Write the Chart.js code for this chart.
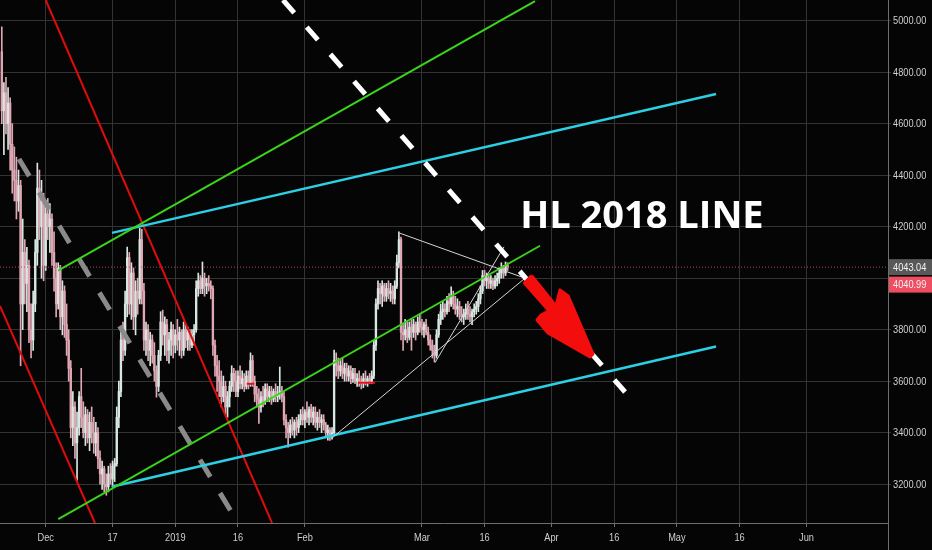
<!DOCTYPE html>
<html><head><meta charset="utf-8">
<script src="https://cdn.jsdelivr.net/npm/chart.js@4.4.0/dist/chart.umd.min.js"></script>
<style>html,body{margin:0;padding:0;background:#050505;overflow:hidden}#wrap{width:932px;height:550px}</style>
</head><body><div id="wrap"><canvas id="c" width="932" height="550"></canvas></div>
<script>
// ---------- axis data ----------
const tickDays   = [0, 16, 31, 46, 62, 90, 105, 121, 136, 151, 166, 182]; // days since 2018-12-01
const tickLabels = ['Dec','17','2019','16','Feb','Mar','16','Apr','16','May','16','Jun'];
const priceTicks = [3200, 3400, 3600, 3800, 4000, 4200, 4400, 4600, 4800, 5000];
const xRange = [-10.93, 201.5];
const yRange = [3049.3, 5080.4];

// ---------- 12h candles, starting 2018-11-20 12:00 ----------
const candleStart = -10.5, candleStep = 0.5;
const opens = [
4880,4650,4720,4600,4680,4520,4420,4380,4300,4360,
3900,4100,3980,4050,3800,3760,3900,4100,4350,4200,
4300,4050,4250,4200,4230,4100,4000,3900,4040,3850,
3950,3820,3760,3650,3420,3500,3360,3420,3540,3460,
3400,3470,3380,3440,3400,3360,3400,3300,3240,3260,
3200,3190,3240,3220,3270,3280,3460,3560,3760,3720,
3900,4080,3900,4020,3850,3950,3920,4150,3950,3760,
3800,3720,3760,3700,3640,3580,3700,3830,3780,3820,
3720,3760,3800,3740,3780,3760,3790,3720,3800,3760,
3790,3740,3780,3800,3960,3990,3960,4000,3970,3980,
3970,3960,3740,3660,3620,3600,3540,3580,3500,3540,
3580,3630,3600,3560,3620,3590,3610,3580,3620,3590,
3680,3600,3550,3530,3500,3540,3520,3570,3540,3560,
3530,3560,3540,3550,3560,3540,3450,3420,3400,3430,
3410,3440,3420,3450,3470,3450,3480,3460,3490,3460,
3480,3440,3460,3440,3450,3430,3400,3410,3390,3400,
3680,3660,3640,3660,3630,3650,3620,3640,3610,3630,
3600,3610,3600,3590,3610,3600,3610,3600,3620,3740,
3900,3960,3940,3970,3930,3960,3940,3950,3920,3970,
4060,4150,3790,3780,3800,3770,3810,3790,3820,3790,
3830,3810,3800,3820,3790,3760,3740,3720,3700,3780,
3840,3870,3880,3870,3910,3900,3930,3900,3880,3890,
3860,3850,3860,3880,3860,3850,3870,3880,3890,3920,
3950,4010,3990,4000,3980,3990,3970,3990,4000,4020,
4040,4020,4050];
const highs = [
4976,4760,4780,4740,4700,4600,4510,4470,4420,4380,
4230,4150,4120,4070,3900,3950,4150,4447,4420,4380,
4330,4300,4310,4290,4250,4180,4060,4060,4050,3990,
3970,3900,3800,3680,3560,3520,3480,3560,3650,3520,
3500,3490,3480,3500,3460,3440,3420,3330,3290,3270,
3240,3270,3280,3290,3300,3500,3600,3800,3830,3950,
4121,4100,4060,4040,3990,4000,4194,4190,3980,3830,
3820,3790,3780,3750,3660,3720,3870,3876,3850,3840,
3790,3830,3820,3800,3840,3810,3800,3830,3820,3810,
3800,3800,3820,3990,4020,4010,4063,4020,4000,4010,
3990,3970,3760,3700,3680,3640,3620,3600,3560,3600,
3660,3650,3640,3640,3660,3640,3630,3640,3640,3710,
3700,3620,3580,3570,3560,3580,3590,3590,3580,3580,
3570,3590,3580,3655,3580,3560,3470,3440,3450,3460,
3450,3460,3470,3490,3500,3490,3520,3500,3510,3500,
3500,3480,3490,3470,3470,3440,3430,3420,3420,3721,
3710,3690,3680,3690,3670,3670,3660,3660,3650,3650,
3630,3640,3620,3630,3640,3620,3630,3640,3760,3920,
3990,3980,3990,3980,3980,3990,3980,3970,3990,4090,
4180,4160,3820,3840,3830,3830,3840,3840,3830,3850,
3860,3840,3830,3840,3810,3780,3760,3740,3800,3860,
3900,3910,3900,3930,3940,3966,3950,3930,3920,3910,
3890,3880,3900,3910,3890,3880,3900,3910,3940,3970,
4030,4031,4020,4010,4010,4000,4010,4020,4040,4060,
4050,4063,4060];
const lows = [
4600,4480,4560,4500,4420,4330,4300,4230,4260,3660,
3800,3900,3870,3750,3690,3720,3870,4050,4150,4000,
3990,4030,4150,4100,4050,3950,3850,3880,3800,3780,
3770,3700,3600,3380,3350,3300,3215,3390,3420,3380,
3350,3360,3330,3360,3320,3310,3260,3200,3180,3170,
3157,3170,3200,3190,3210,3270,3420,3540,3680,3700,
3850,3860,3840,3800,3780,3860,3900,3900,3720,3700,
3680,3660,3670,3600,3538,3560,3680,3740,3700,3680,
3670,3700,3690,3710,3720,3700,3690,3700,3730,3720,
3720,3730,3740,3790,3930,3940,3940,3930,3940,3950,
3920,3700,3620,3560,3540,3500,3520,3470,3460,3500,
3560,3560,3540,3540,3570,3570,3560,3570,3570,3580,
3580,3520,3500,3436,3480,3500,3510,3520,3520,3510,
3520,3520,3520,3530,3520,3430,3380,3344,3380,3390,
3380,3390,3400,3430,3430,3420,3440,3430,3440,3430,
3420,3410,3420,3400,3410,3380,3371,3370,3375,3390,
3620,3610,3620,3610,3600,3600,3600,3590,3595,3590,
3580,3580,3570,3575,3585,3580,3590,3590,3610,3720,
3880,3900,3890,3910,3910,3920,3910,3900,3900,3960,
4040,3760,3720,3760,3750,3760,3720,3770,3760,3780,
3790,3780,3770,3780,3740,3720,3690,3675,3690,3770,
3820,3840,3850,3860,3870,3890,3880,3860,3850,3840,
3830,3820,3840,3840,3830,3820,3850,3860,3870,3900,
3940,3970,3960,3960,3960,3955,3960,3970,3980,4000,
4000,4010,4030];
const closes = [
4650,4720,4600,4680,4520,4420,4380,4300,4360,3900,
4100,3980,4050,3800,3760,3900,4100,4350,4200,4300,
4050,4250,4200,4230,4100,4000,3900,4040,3850,3950,
3820,3760,3650,3420,3500,3360,3420,3540,3460,3400,
3470,3380,3440,3400,3360,3400,3300,3240,3260,3200,
3190,3240,3220,3270,3280,3460,3560,3760,3720,3900,
4080,3900,4020,3850,3950,3920,4150,3950,3760,3800,
3720,3760,3700,3640,3580,3700,3830,3780,3820,3720,
3760,3800,3740,3780,3760,3790,3720,3800,3760,3790,
3740,3780,3800,3960,3990,3960,4000,3970,3980,3970,
3960,3740,3660,3620,3600,3540,3580,3500,3540,3580,
3630,3600,3560,3620,3590,3610,3580,3620,3590,3680,
3600,3550,3530,3500,3540,3520,3570,3540,3560,3530,
3560,3540,3550,3560,3540,3450,3420,3400,3430,3410,
3440,3420,3450,3470,3450,3480,3460,3490,3460,3480,
3440,3460,3440,3450,3430,3400,3410,3390,3400,3680,
3660,3640,3660,3630,3650,3620,3640,3610,3630,3600,
3610,3600,3590,3610,3600,3610,3600,3620,3740,3900,
3960,3940,3970,3930,3960,3940,3950,3920,3970,4060,
4150,3790,3780,3800,3770,3810,3790,3820,3790,3830,
3810,3800,3820,3790,3760,3740,3720,3700,3780,3840,
3870,3880,3870,3910,3900,3930,3900,3880,3890,3860,
3850,3860,3880,3860,3850,3870,3880,3890,3920,3950,
4010,3990,4000,3980,3990,3970,3990,4000,4020,4040,
4020,4050,4041];

// ---------- drawn trend lines (day, price) ----------
const redLineA    = [[0, 5080.4], [54.14, 3049.6]];
const redLineB    = [[-10.93, 3892], [11.79, 3049.6]];
const greyDashed  = [[-6.39, 4463], [46.0, 3049.6]];
const whiteDashed = [[56.78, 5080.4], [138.6, 3558]];
const greenUpper  = [[2.94, 4029], [117.06, 5076]];
const greenLower  = [[3.01, 3064], [118.25, 4126]];
const cyanUpper   = [[15.86, 4176], [160.36, 4715]];
const cyanLower   = [[15.79, 3190], [160.36, 3735]];
const triTop      = [[84.76, 4174.5], [114.66, 4000]];
const triBottom   = [[68.42, 3378.5], [114.66, 4000]];
const triSteep    = [[93.13, 3672], [109.64, 4122]];
const redMarkA    = [[48.1, 3590], [49.9, 3590]];
const redMarkB    = [[74.7, 3594], [78.8, 3594]];
const arrowShape  = [[116.27,4009.8],[122.08,3892.2],[123.04,3954.3],[124.98,3931],[130.93,3705.8],[130.22,3694.1],
                     [120.17,3787.3],[117.54,3837.8],[118.49,3857.2],[120.41,3872.8],[114.50,3981.5],[116.27,4009.8]];
const priceLineValue = 4043.04;
const lastPriceValue = 4040.99;
const headline = 'HL 2018 LINE';
const headlineAt = [113.5, 4196];

// ---------- build ----------
const UP = '#d8e7e2', DN = '#dfa7b4';
const dayOf = i => candleStart + i * candleStep;
const colorOf = ctx => (closes[ctx.dataIndex] >= opens[ctx.dataIndex] ? UP : DN);
const pts = arr => arr.map(p => ({x: p[0], y: p[1]}));

function lineDs(arr, color, width, dash, order) {
  return {type: 'line', data: pts(arr), borderColor: color, borderWidth: width,
    borderDash: dash || [], pointRadius: 0, fill: false, tension: 0, order: order, clip: 0,
    borderCapStyle: 'butt'};
}

const datasets = [
  {type: 'bar', data: closes.map((c, i) => ({x: dayOf(i), y: [lows[i], highs[i]]})),
   backgroundColor: colorOf, barThickness: 1, grouped: false, order: 20, borderWidth: 0},
  {type: 'bar', data: closes.map((c, i) => ({x: dayOf(i), y: [opens[i], c]})),
   backgroundColor: colorOf, barThickness: 1.7, minBarLength: 1, grouped: false, order: 19, borderWidth: 0},
  lineDs([[xRange[0], priceLineValue], [xRange[1], priceLineValue]], '#b5476b', 1, [1, 2], 15),
  lineDs(redMarkA, '#e8101a', 2, null, 14),
  lineDs(redMarkB, '#e8101a', 2, null, 14),
  lineDs(redLineA, '#e00c0c', 2, null, 10),
  lineDs(redLineB, '#e00c0c', 2, null, 10),
  lineDs(greyDashed, '#8a8a8a', 5, [20, 19], 9),
  lineDs(greenUpper, '#3ad41a', 2, null, 8),
  lineDs(greenLower, '#3ad41a', 2, null, 8),
  lineDs(cyanUpper, '#2ccfe4', 2.5, null, 8),
  lineDs(cyanLower, '#2ccfe4', 2.5, null, 8),
  lineDs(triTop, '#d6d6d6', 1, null, 7),
  lineDs(triBottom, '#d6d6d6', 1, null, 7),
  lineDs(triSteep, '#d6d6d6', 1, null, 7),
  lineDs(whiteDashed, '#ffffff', 5, [17, 19], 3),
  Object.assign(lineDs(arrowShape, '#f30d0d', 3, null, 1), {fill: 'shape', backgroundColor: '#f30d0d', borderJoinStyle: 'round'})
];

const FONT = "'Liberation Sans', Arial, sans-serif";
function narrowText(c, txt, x, y, align) {
  c.save(); c.translate(x, y); c.scale(0.84, 1); c.textAlign = align; c.fillText(txt, 0, 0); c.restore();
}

const decor = {
  id: 'decor',
  beforeDraw(chart) {
    const c = chart.ctx;
    c.save(); c.fillStyle = '#050505'; c.fillRect(0, 0, chart.width, chart.height); c.restore();
  },
  afterDatasetsDraw(chart) {
    const c = chart.ctx, xs = chart.scales.x, ys = chart.scales.y;
    c.save();
    c.fillStyle = '#ffffff';
    c.font = "bold 38px 'Open Sans', 'Liberation Sans', sans-serif";
    c.textBaseline = 'alphabetic'; c.textAlign = 'left';
    c.fillText(headline, xs.getPixelForValue(headlineAt[0]), ys.getPixelForValue(headlineAt[1]));
    c.restore();
  },
  afterDraw(chart) {
    const c = chart.ctx, xs = chart.scales.x, ys = chart.scales.y, ca = chart.chartArea;
    c.save();
    c.strokeStyle = '#6e6e6e'; c.lineWidth = 1;
    c.beginPath(); c.moveTo(ca.right + 0.5, ca.bottom); c.lineTo(ca.right + 0.5, chart.height); c.stroke();
    c.font = '11px ' + FONT; c.textBaseline = 'middle'; c.fillStyle = '#cfcfcf';
    priceTicks.forEach(v => {
      if (v === 4000) return;
      narrowText(c, v.toFixed(2), ca.right + 5, ys.getPixelForValue(v) + 0.5, 'left');
    });
    tickDays.forEach((d, i) => narrowText(c, tickLabels[i], xs.getPixelForValue(d), ca.bottom + 15, 'center'));
    const y1 = ys.getPixelForValue(priceLineValue);
    const y2 = Math.max(ys.getPixelForValue(lastPriceValue), y1 + 17.5);
    c.fillStyle = '#585858'; c.fillRect(ca.right + 1, y1 - 8, chart.width - ca.right, 16);
    c.fillStyle = '#ef4d62'; c.fillRect(ca.right + 1, y2 - 8, chart.width - ca.right, 16);
    c.fillStyle = '#f2f2f2';
    narrowText(c, priceLineValue.toFixed(2), ca.right + 5, y1 + 0.5, 'left');
    narrowText(c, lastPriceValue.toFixed(2), ca.right + 5, y2 + 0.5, 'left');
    c.restore();
  }
};

new Chart(document.getElementById('c'), {
  type: 'bar',
  data: {datasets},
  options: {
    responsive: false, animation: false, devicePixelRatio: 1,
    layout: {padding: 0},
    plugins: {legend: {display: false}, tooltip: {enabled: false}},
    scales: {
      x: {
        type: 'linear', position: 'bottom', min: xRange[0], max: xRange[1], offset: false,
        afterBuildTicks: s => { s.ticks = tickDays.map(v => ({value: v})); },
        afterFit: s => { s.height = 27; s.paddingLeft = 0; s.paddingRight = 0; },
        grid: {color: '#333333', lineWidth: 1, offset: false, tickLength: 4, tickColor: '#6e6e6e'},
        border: {color: '#6e6e6e', width: 1},
        ticks: {display: false, autoSkip: false, maxRotation: 0}
      },
      y: {
        type: 'linear', position: 'right', min: yRange[0], max: yRange[1], beginAtZero: false,
        afterBuildTicks: s => { s.ticks = priceTicks.map(v => ({value: v})); },
        afterFit: s => { s.width = 44; s.paddingTop = 0; s.paddingBottom = 0; },
        grid: {color: '#333333', lineWidth: 1, tickLength: 3, tickColor: '#333333'},
        border: {color: '#6e6e6e', width: 1},
        ticks: {display: false}
      }
    }
  },
  plugins: [decor]
});
</script></body></html>
